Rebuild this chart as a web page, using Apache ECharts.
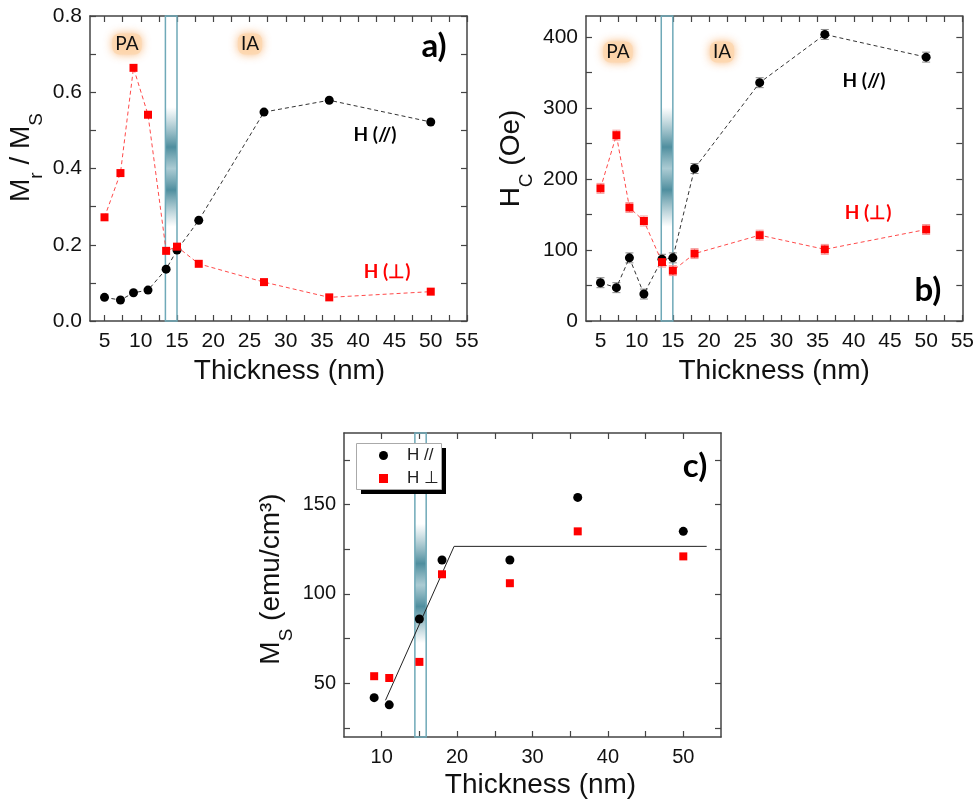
<!DOCTYPE html>
<html>
<head>
<meta charset="utf-8">
<script src="https://cdn.jsdelivr.net/npm/echarts@6/dist/echarts.min.js"></script>
<style>
html,body{margin:0;padding:0;background:#fff;}
#chart{width:977px;height:803px;}
</style>
</head>
<body>
<div id="chart"></div>
<script>
// ---------- data ----------
const thickAB = [5, 7.2, 9, 11, 13.5, 15, 18, 27, 36, 50];
const mrPar   = [0.062, 0.055, 0.074, 0.081, 0.136, 0.186, 0.264, 0.548, 0.579, 0.522];
const mrPerp  = [0.272, 0.388, 0.664, 0.541, 0.184, 0.195, 0.150, 0.102, 0.062, 0.077];
const hcPar   = [54, 47, 89, 38, 87, 89, 215, 336, 404, 372];
const hcPerp  = [187, 262, 160, 141, 83, 71, 95, 121, 101, 129];
const hcParErr  = [7, 7, 7, 7, 7, 7, 7, 7, 7, 7];
const hcPerpErr = [7, 7, 7, 7, 7, 7, 7, 7, 7, 7];
const thickC  = [9, 11, 15, 18, 27, 36, 50];
const msPar   = [42, 38, 86, 119, 119, 154, 135];
const msPerp  = [54, 53, 62, 111, 106, 135, 121];
const fitX    = [10.5, 19.6, 53.1];
const fitY    = [40.5, 126.6, 126.6];
const bandAB  = [13.4, 15.0];
const bandC   = [14.4, 15.9];
const legendNames = ['H //', 'H ⊥'];
// tick values
const xTicksAB  = [5,7.5,10,12.5,15,17.5,20,22.5,25,27.5,30,32.5,35,37.5,40,42.5,45,47.5,50,52.5,55];
const xLabelsAB = [5,10,15,20,25,30,35,40,45,50,55];
const yTicksA   = [0,0.1,0.2,0.3,0.4,0.5,0.6,0.7,0.8];
const yLabelsA  = [0,0.2,0.4,0.6,0.8];
const yTicksB   = [0,50,100,150,200,250,300,350,400];
const yLabelsB  = [0,100,200,300,400];
const xTicksC   = [10,15,20,25,30,35,40,45,50];
const xLabelsC  = [10,20,30,40,50];
const yTicksC   = [25,50,75,100,125,150,175];
const yLabelsC  = [50,100,150];

// ---------- helpers ----------
const AX = '#444';
const tickFont = 'Liberation Sans, Arial, sans-serif';
const annFont = 'Lato, "Open Sans", sans-serif';
function zip(a, b, c) { return a.map((v, i) => c ? [v, b[i], c[i]] : [v, b[i]]); }

const xAxes = [], yAxes = [];
function addAxes(gi, o) {
  const common = {
    gridIndex: gi, type: 'value', splitLine: {show: false},
    axisLine: {show: true, onZero: false, lineStyle: {color: AX, width: 1.5}},
  };
  xAxes.push(Object.assign({}, common, {
    position: 'bottom', min: o.xmin, max: o.xmax,
    axisTick: {inside: true, length: 6, lineStyle: {color: AX, width: 1.2}, customValues: o.xTicks},
    axisLabel: {customValues: o.xLabels, margin: 10, fontSize: o.fs, color: '#111', fontFamily: tickFont},
    name: 'Thickness (nm)', nameLocation: 'middle', nameGap: o.xGap,
    nameTextStyle: {fontSize: 28, fontFamily: tickFont, color: '#111', padding: o.xPad}
  }));
  xAxes.push(Object.assign({}, common, {
    position: 'top', min: o.xmin, max: o.xmax,
    axisTick: {inside: true, length: 6, lineStyle: {color: AX, width: 1.2}, customValues: o.xTicks},
    axisLabel: {show: false}
  }));
  yAxes.push(Object.assign({}, common, {
    position: 'left', min: o.ymin, max: o.ymax,
    axisTick: {inside: true, length: 6, lineStyle: {color: AX, width: 1.2}, customValues: o.yTicks},
    axisLabel: {customValues: o.yLabels, margin: 8, fontSize: o.fs, color: '#111', fontFamily: tickFont, formatter: o.yFmt},
    name: o.yName, nameLocation: 'middle', nameGap: o.yGap,
    nameTextStyle: {padding: o.yPad, rich: {
      m: {fontSize: 28, fontFamily: tickFont, color: '#111', padding: [0, 0, 11, 0]},
      s: {fontSize: 19, fontFamily: tickFont, color: '#111', verticalAlign: 'bottom'}
    }}
  }));
  yAxes.push(Object.assign({}, common, {
    position: 'right', min: o.ymin, max: o.ymax,
    axisTick: {inside: true, length: 6, lineStyle: {color: AX, width: 1.2}, customValues: o.yTicks},
    axisLabel: {show: false}
  }));
}

addAxes(0, {xmin: 3, xmax: 55, xTicks: xTicksAB, xLabels: xLabelsAB, ymin: 0, ymax: 0.8,
  yTicks: yTicksA, yLabels: yLabelsA, yFmt: v => v.toFixed(1), fs: 21,
  yName: '{m|M}{s|r}{m| / M}{s|S}', yGap: 44, yPad: [0, 0, 0, 22], xGap: 36, xPad: [0, 0, 0, 22]});
addAxes(1, {xmin: 3, xmax: 55, xTicks: xTicksAB, xLabels: xLabelsAB, ymin: 0, ymax: 430,
  yTicks: yTicksB, yLabels: yLabelsB, yFmt: v => String(v), fs: 21,
  yName: '{m|H}{s|C}{m| (Oe)}', yGap: 50, yPad: [0, 0, 0, 20], xGap: 36, xPad: [0, 0, 0, 0]});
addAxes(2, {xmin: 5, xmax: 55, xTicks: xTicksC, xLabels: xLabelsC, ymin: 20, ymax: 190,
  yTicks: yTicksC, yLabels: yLabelsC, yFmt: v => String(v), fs: 20,
  yName: '{m|M}{s|S}{m| (emu/cm³)}', yGap: 48, yPad: [0, 0, 0, 12], xGap: 34, xPad: [0, 0, 0, 16]});

// band gradient
function bandColor() {
  return new echarts.graphic.LinearGradient(0, 0, 0, 1, [
    {offset: 0, color: 'rgba(255,255,255,0)'},
    {offset: 0.30, color: 'rgba(90,150,165,0)'},
    {offset: 0.43, color: 'rgba(60,130,148,0.9)'},
    {offset: 0.50, color: 'rgba(150,190,200,0.8)'},
    {offset: 0.57, color: 'rgba(60,130,148,0.9)'},
    {offset: 0.69, color: 'rgba(90,150,165,0)'},
    {offset: 1, color: 'rgba(255,255,255,0)'}
  ]);
}
function bandSeries(xi, yi, band) {
  return {
    type: 'line', xAxisIndex: xi, yAxisIndex: yi, data: [], z: 1, silent: true,
    markArea: {silent: true, itemStyle: {color: bandColor(), borderColor: '#6fa9b8', borderWidth: 1.5},
      data: [[{xAxis: band[0]}, {xAxis: band[1]}]]}
  };
}
function lineSeries(xi, yi, data, color, lineColor, symbol, size) {
  return {
    type: 'line', xAxisIndex: xi, yAxisIndex: yi, data: data, z: 5,
    symbol: symbol, symbolSize: size, itemStyle: {color: color, opacity: 1},
    lineStyle: {color: lineColor, width: 1, type: [4, 3]}, animation: false
  };
}
function errSeries(xi, yi, data, color) {
  return {
    type: 'custom', xAxisIndex: xi, yAxisIndex: yi, data: data, z: 4,
    renderItem: function (params, api) {
      const x = api.value(0), y = api.value(1), e = api.value(2);
      const t = api.coord([x, y + e]), b = api.coord([x, y - e]);
      const st = {stroke: color, lineWidth: 1};
      return {type: 'group', children: [
        {type: 'line', shape: {x1: t[0], y1: t[1], x2: b[0], y2: b[1]}, style: st},
        {type: 'line', shape: {x1: t[0] - 4, y1: t[1], x2: t[0] + 4, y2: t[1]}, style: st},
        {type: 'line', shape: {x1: b[0] - 4, y1: b[1], x2: b[0] + 4, y2: b[1]}, style: st}
      ]};
    }
  };
}

const series = [
  bandSeries(0, 0, bandAB),
  lineSeries(0, 0, zip(thickAB, mrPar), '#000', '#333', 'circle', 9),
  lineSeries(0, 0, zip(thickAB, mrPerp), '#ff0000', '#ff4a4a', 'rect', 8),
  bandSeries(2, 2, bandAB),
  errSeries(2, 2, zip(thickAB, hcPar, hcParErr), '#888'),
  errSeries(2, 2, zip(thickAB, hcPerp, hcPerpErr), '#f59a9a'),
  lineSeries(2, 2, zip(thickAB, hcPar), '#000', '#333', 'circle', 9),
  lineSeries(2, 2, zip(thickAB, hcPerp), '#ff0000', '#ff4a4a', 'rect', 8),
  bandSeries(4, 4, bandC),
  {type: 'line', xAxisIndex: 4, yAxisIndex: 4, data: zip(fitX, fitY), symbol: 'none', z: 3,
    lineStyle: {color: '#222', width: 1}},
  {name: legendNames[0], type: 'scatter', xAxisIndex: 4, yAxisIndex: 4, data: zip(thickC, msPar), z: 5,
    symbol: 'circle', symbolSize: 9, itemStyle: {color: '#000', opacity: 1}},
  {name: legendNames[1], type: 'scatter', xAxisIndex: 4, yAxisIndex: 4, data: zip(thickC, msPerp), z: 5,
    symbol: 'rect', symbolSize: 8, itemStyle: {color: '#ff0000', opacity: 1}}
];

function glowText(x, y, t) {
  return {type: 'text', x: x, y: y, z: 10, style: {
    text: t, font: '19px ' + annFont, fill: '#111', align: 'center', verticalAlign: 'middle',
    backgroundColor: 'rgba(253,215,175,0.85)', borderRadius: 7, padding: [1, 3],
    shadowBlur: 10, shadowColor: 'rgba(247,165,90,0.9)'
  }};
}
function label(x, y, t, size, color) {
  return {type: 'text', x: x, y: y, z: 10, style: {
    text: t, font: 'bold ' + size + 'px ' + annFont, fill: color, align: 'center', verticalAlign: 'middle'
  }};
}

const option = {
  backgroundColor: '#fff',
  animation: false,
  grid: [
    {left: 90, top: 16, width: 377, height: 305},
    {left: 586, top: 16, width: 377, height: 305},
    {left: 344, top: 433, width: 377, height: 304}
  ],
  xAxis: xAxes,
  yAxis: yAxes,
  legend: {
    orient: 'vertical', left: 379, top: 447, z: 7,
    data: [{name: legendNames[0], icon: 'circle'}, {name: legendNames[1], icon: 'rect'}],
    padding: 0, itemWidth: 9, itemHeight: 9, itemGap: 6,
    textStyle: {fontSize: 17, fontFamily: tickFont, color: '#222', padding: [0, 0, 0, 14]}
  },
  graphic: [
    {type: 'rect', shape: {x: 361, y: 448, width: 85, height: 46}, style: {fill: '#000'}, z: 5},
    {type: 'rect', shape: {x: 356.5, y: 443.5, width: 85, height: 46}, style: {fill: '#fff', stroke: '#aaa', lineWidth: 1}, z: 6},
    glowText(127, 44, 'PA'), glowText(250, 44, 'IA'),
    glowText(618, 52, 'PA'), glowText(722, 52, 'IA'),
    label(434, 46, 'a)', 33, '#000'), label(928, 290, 'b)', 33, '#000'), label(695, 466, 'c)', 33, '#000'),
    label(375, 135, 'H (//)', 19, '#000'), label(387, 272, 'H (⊥)', 19, '#ff0000'),
    label(864, 81, 'H (//)', 19, '#000'), label(868, 213, 'H (⊥)', 19, '#ff0000')
  ],
  series: series
};

const chart = echarts.init(document.getElementById('chart'), null, {renderer: 'canvas'});
chart.setOption(option);
</script>
</body>
</html>
